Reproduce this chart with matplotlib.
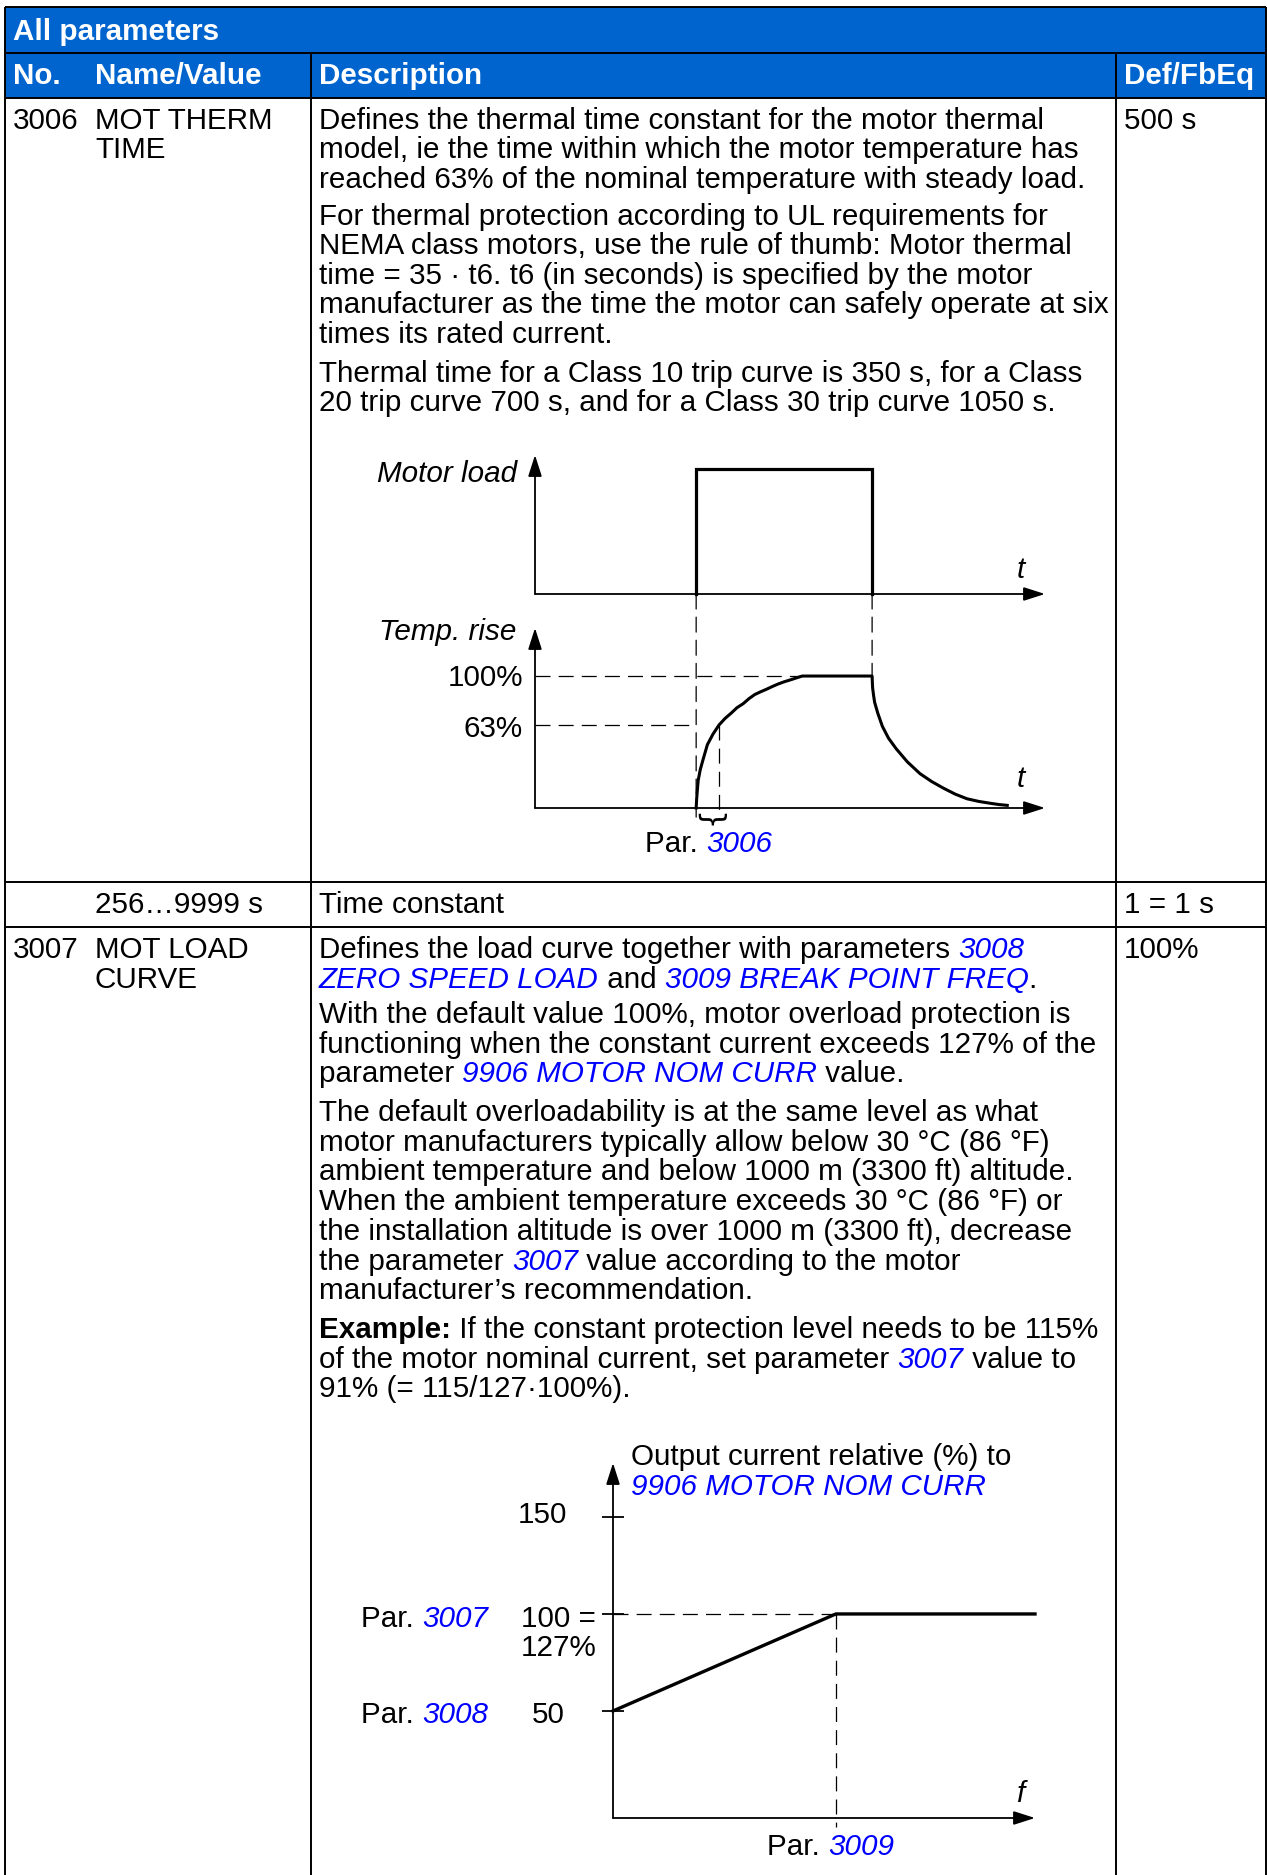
import re

import matplotlib
matplotlib.use("Agg")
import matplotlib.pyplot as plt
from matplotlib.patches import ConnectionPatch, Rectangle

plt.rcParams["font.family"] = ["Liberation Sans", "DejaVu Sans"]

W, H, DPI = 1267, 1875, 100
HEAD_BLUE = "#0064CF"
LINK = "#0000FF"
FS = 21.35

# ---- table content ----
title = "All parameters"
col_heads = ["No.", "Name/Value", "Description", "Def/FbEq"]

# {..} = parameter link (blue italic), *..* = bold
desc_3006 = [
    ["Defines the thermal time constant for the motor thermal",
     "model, ie the time within which the motor temperature has",
     "reached 63% of the nominal temperature with steady load."],
    ["For thermal protection according to UL requirements for",
     "NEMA class motors, use the rule of thumb: Motor thermal",
     "time = 35 · t6. t6 (in seconds) is specified by the motor",
     "manufacturer as the time the motor can safely operate at six",
     "times its rated current."],
    ["Thermal time for a Class 10 trip curve is 350 s, for a Class",
     "20 trip curve 700 s, and for a Class 30 trip curve 1050 s."],
]
desc_3007 = [
    ["Defines the load curve together with parameters {3008}",
     "{ZERO SPEED LOAD} and {3009 BREAK POINT FREQ}."],
    ["With the default value 100%, motor overload protection is",
     "functioning when the constant current exceeds 127% of the",
     "parameter {9906 MOTOR NOM CURR} value."],
    ["The default overloadability is at the same level as what",
     "motor manufacturers typically allow below 30 °C (86 °F)",
     "ambient temperature and below 1000 m (3300 ft) altitude.",
     "When the ambient temperature exceeds 30 °C (86 °F) or",
     "the installation altitude is over 1000 m (3300 ft), decrease",
     "the parameter {3007} value according to the motor",
     "manufacturer’s recommendation."],
    ["*Example:* If the constant protection level needs to be 115%",
     "of the motor nominal current, set parameter {3007} value to",
     "91% (= 115/127·100%)."],
]

# ---- thermal diagram (time in arbitrary units 0..100) ----
load_t = [31.6, 31.6, 66.1, 66.1]
load_pct = [0, 100, 100, 0]
temp_t = [31.6, 31.7, 31.8, 32.0, 32.4, 32.9, 33.8, 34.9, 36.1, 37.3, 38.5, 39.6,
          40.8, 42.0, 43.1, 44.2, 45.4, 46.5, 47.7, 48.9, 50.0, 51.2, 52.4,
          66.1, 66.15, 66.2, 66.4, 66.6, 67.2, 68.1, 69.3, 70.8, 73.0, 75.5,
          77.8, 80.1, 82.4, 84.7, 87.0, 89.4, 91.0, 92.6]
temp_pct = [0, 7, 12, 21, 29, 36, 48, 56, 63, 68, 72, 76,
            79, 83, 86, 88, 90, 92, 94, 95.7, 97, 98.5, 100,
            100, 95, 91, 85, 80, 72, 62, 53, 45, 35, 26,
            20, 15, 10.5, 7, 5, 3.5, 2.6, 2]
t_on, t_off, t_tau, t_full = 31.6, 66.1, 36.1, 52.4

# ---- load curve (frequency 0..100, current %) ----
freq = [0, 52.8, 100]
current = [50, 100, 100]
cur_ticks = [50, 100, 150]

fig = plt.figure(figsize=(W / DPI, H / DPI), dpi=DPI)
ax = fig.add_axes([0, 0, 1, 1])
ax.set_xlim(0, W)
ax.set_ylim(H, 0)
ax.axis("off")
rend = fig.canvas.get_renderer()

STY = {"n": dict(color="black"),
       "l": dict(color=LINK, style="italic"),
       "b": dict(color="black", weight="bold")}


def text_w(s, fs, **kw):
    t = ax.text(0, 0, "|" + s + "|", fontsize=fs, **kw)
    w = t.get_window_extent(rend).width
    t.remove()
    t = ax.text(0, 0, "||", fontsize=fs, **kw)
    w -= t.get_window_extent(rend).width
    t.remove()
    return w


def rich(x, y, line, fs=FS):
    for part in re.split(r"(\{[^}]*\}|\*[^*]*\*)", line):
        if not part:
            continue
        st = "n"
        if part[0] == "{":
            st, part = "l", part[1:-1]
        elif part[0] == "*":
            st, part = "b", part[1:-1]
        ax.text(x, y, part, fontsize=fs, va="baseline", **STY[st])
        x += text_w(part, fs, **STY[st])


def paragraphs(x, starts, paras, lh):
    for y0, lines in zip(starts, paras):
        for i, ln in enumerate(lines):
            rich(x, y0 + i * lh, ln)


# ---- table frame ----
LW = 1.4
ax.add_patch(Rectangle((5, 7), 1261, 91, color=HEAD_BLUE, lw=0))
for y in (7, 53, 98, 882, 927):
    ax.plot([5, 1266], [y, y], color="black", lw=LW, solid_capstyle="butt")
for x, y0 in ((5, 7), (1266, 7), (311, 53), (1116, 53)):
    ax.plot([x, x], [y0, H + 5], color="black", lw=LW, solid_capstyle="butt")

hd = dict(color="white", weight="bold", fontsize=FS, va="baseline")
ax.text(13, 40, title, **hd)
for x, s in zip((13, 95, 319, 1124), col_heads):
    ax.text(x, 84, s, **hd)

# row 3006
ax.text(13, 129, "3006", fontsize=FS, va="baseline")
ax.text(95, 129, "MOT THERM", fontsize=FS, va="baseline")
ax.text(95, 158, "TIME", fontsize=FS, va="baseline")
ax.text(1124, 129, "500 s", fontsize=FS, va="baseline")
paragraphs(319, (129, 225, 382), desc_3006, 29.4)

# row values
ax.text(95, 913, "256…9999 s", fontsize=FS, va="baseline")
ax.text(319, 913, "Time constant", fontsize=FS, va="baseline")
ax.text(1124, 913, "1 = 1 s", fontsize=FS, va="baseline")

# row 3007
ax.text(13, 958, "3007", fontsize=FS, va="baseline")
ax.text(95, 958, "MOT LOAD", fontsize=FS, va="baseline")
ax.text(95, 988, "CURVE", fontsize=FS, va="baseline")
ax.text(1124, 958, "100%", fontsize=FS, va="baseline")
paragraphs(319, (958, 1023, 1121, 1338), desc_3007, 29.7)

# ---- diagrams ----
ARW = dict(arrowstyle="-|>,head_length=1.0,head_width=0.32", mutation_scale=13,
           lw=1.3, color="black", shrinkA=0, shrinkB=0)
DASH = dict(color="black", lw=0.9, ls=(0, (12, 6.5)))


def px_axes(x0, x1, yb, yt, xlim, ylim):
    a = fig.add_axes([x0 / W, 1 - yb / H, (x1 - x0) / W, (yb - yt) / H])
    a.set_xlim(*xlim)
    a.set_ylim(*ylim)
    for s in a.spines.values():
        s.set_visible(False)
    a.set_xticks([])
    a.set_yticks([])
    a.patch.set_visible(False)
    return a


def arrows(a):
    x0, x1 = a.get_xlim()
    y0, y1 = a.get_ylim()
    a.annotate("", xy=(x1, y0), xytext=(x0, y0), arrowprops=ARW, annotation_clip=False)
    a.annotate("", xy=(x0, y1), xytext=(x0, y0), arrowprops=ARW, annotation_clip=False)


ax_load = px_axes(535, 1045, 594, 455, (0, 100), (0, 111.2))
arrows(ax_load)
ax_load.plot(load_t, load_pct, color="black", lw=2.3, solid_joinstyle="miter",
             clip_on=False)

ax_temp = px_axes(535, 1045, 808, 628, (0, 100), (0, 136.4))
arrows(ax_temp)
ax_temp.plot(temp_t, temp_pct, color="black", lw=2.2, clip_on=False,
             solid_joinstyle="round")
ax_temp.plot([0, t_full], [100, 100], **DASH)
ax_temp.plot([0, t_on], [63, 63], **DASH)
ax_temp.plot([t_tau, t_tau], [63, -8], clip_on=False, **DASH)
for tb, yb in ((t_on, -8), (t_off, 100)):
    fig.add_artist(ConnectionPatch(xyA=(tb, 0), coordsA=ax_load.transData,
                                   xyB=(tb, yb), coordsB=ax_temp.transData, **DASH))
ax_temp.text((t_on + t_tau) / 2, -10.6, "}", rotation=-90, ha="center", va="center",
             fontsize=22, family="DejaVu Sans", clip_on=False)

it = dict(fontsize=FS, style="italic", va="baseline")
ax.text(517, 482, "Motor load", ha="right", **it)
ax.text(516, 640, "Temp. rise", ha="right", **it)
ax.text(1021, 578, "t", ha="center", **it)
ax.text(1021, 787, "t", ha="center", **it)
ax.text(523, 686, "100%", ha="right", fontsize=FS, va="baseline")
ax.text(523, 737, "63%", ha="right", fontsize=FS, va="baseline")
rich(645, 852, "Par. {3006}")

ax_cur = px_axes(613, 1035, 1818, 1463, (0, 100), (-5.15, 177.8))
arrows(ax_cur)
ax_cur.set_yticks(cur_ticks)
ax_cur.tick_params(axis="y", direction="inout", length=16, width=1.3,
                   labelleft=False, color="black")
ax_cur.plot(freq, current, color="black", lw=2.4, clip_on=False)
ax_cur.plot([0, freq[1]], [100, 100], **DASH)
ax_cur.plot([freq[1], freq[1]], [100, -10], clip_on=False, **DASH)

rich(631, 1465, "Output current relative (%) to")
rich(631, 1495, "{9906 MOTOR NOM CURR}")
ax.text(567, 1523, "150", ha="right", fontsize=FS, va="baseline")
ax.text(521, 1627, "100 =", fontsize=FS, va="baseline")
ax.text(521, 1656, "127%", fontsize=FS, va="baseline")
ax.text(565, 1723, "50", ha="right", fontsize=FS, va="baseline")
rich(361, 1627, "Par. {3007}")
rich(361, 1723, "Par. {3008}")
rich(767, 1855, "Par. {3009}")
ax.text(1021, 1802, "f", ha="center", **it)

fig.savefig("out.png", dpi=DPI)
